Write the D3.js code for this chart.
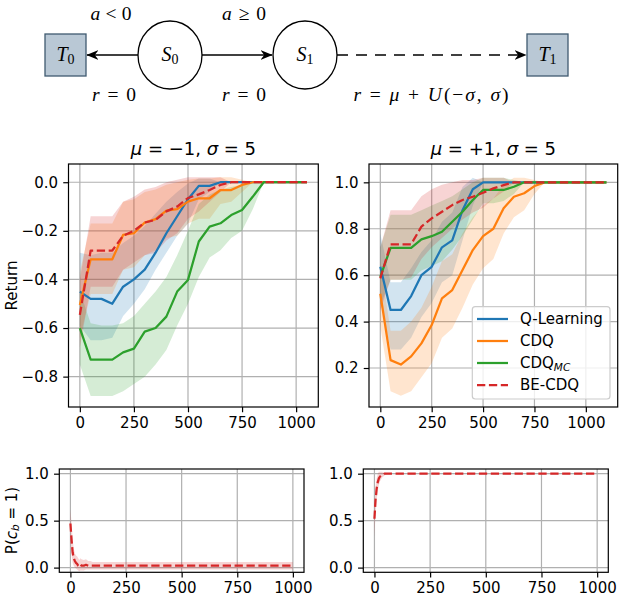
<!DOCTYPE html>
<html><head><meta charset="utf-8">
<script src="https://cdn.jsdelivr.net/npm/d3@7"></script>
<style>body{margin:0;background:#fff} svg{display:block} text{font-family:"DejaVu Sans",sans-serif} text.serif{font-family:"Liberation Serif","DejaVu Serif",serif}</style>
</head><body><svg id="c" width="620" height="596"></svg>
<script>
// ---------------- data ----------------
const methods = ["Q-Learning", "CDQ", "CDQ_MC", "BE-CDQ"];
const colors = ["#1f77b4", "#ff7f0e", "#2ca02c", "#d62728"];
const xTicks = [0, 250, 500, 750, 1000];

// top-left panel: mu = -1, sigma = 5
const xLeft = [0,50,100,150,200,250,300,350,400,450,500,550,600,650,700,750,800,850,900,950,1000,1050];
const qLeftMean  = [-0.45,-0.48,-0.48,-0.50,-0.43,-0.40,-0.36,-0.29,-0.21,-0.14,-0.07,-0.015,-0.015,0,0,0,0,0,0,0,0,0];
const qLeftUp    = [-0.29,-0.30,-0.29,-0.29,-0.25,-0.22,-0.18,-0.13,-0.08,-0.04,-0.005,0.015,0.015,0,0,0,0,0,0,0,0,0];
const qLeftLo    = [-0.59,-0.65,-0.65,-0.64,-0.55,-0.50,-0.44,-0.36,-0.29,-0.22,-0.17,-0.07,-0.04,0,0,0,0,0,0,0,0,0];
const cdqLeftMean= [-0.505,-0.317,-0.317,-0.317,-0.217,-0.21,-0.166,-0.152,-0.117,-0.111,-0.08,-0.066,-0.066,-0.032,-0.032,-0.011,0,0,0,0,0,0];
const cdqLeftUp  = [-0.37,-0.17,-0.17,-0.17,-0.08,-0.07,-0.04,-0.03,-0.01,0.0,0.01,0.015,0.015,0.02,0.02,0.01,0,0,0,0,0,0];
const cdqLeftLo  = [-0.64,-0.46,-0.46,-0.46,-0.36,-0.35,-0.30,-0.28,-0.23,-0.22,-0.17,-0.15,-0.15,-0.09,-0.08,-0.04,0,0,0,0,0,0];
const mcLeftMean = [-0.60,-0.73,-0.73,-0.73,-0.70,-0.685,-0.615,-0.60,-0.553,-0.45,-0.402,-0.244,-0.183,-0.169,-0.135,-0.114,-0.059,0,0,0,0,0];
const mcLeftUp   = [-0.45,-0.58,-0.59,-0.59,-0.58,-0.55,-0.50,-0.45,-0.39,-0.30,-0.20,-0.09,-0.05,-0.03,-0.02,-0.01,0,0,0,0,0,0];
const mcLeftLo   = [-0.75,-0.88,-0.88,-0.88,-0.86,-0.83,-0.80,-0.75,-0.69,-0.59,-0.50,-0.39,-0.31,-0.28,-0.23,-0.20,-0.11,0,0,0,0,0];
const beLeftMean = [-0.546,-0.281,-0.281,-0.281,-0.22,-0.20,-0.166,-0.155,-0.12,-0.10,-0.065,-0.05,-0.032,-0.011,0,0,0,0,0,0,0,0];
const beLeftUp   = [-0.40,-0.14,-0.14,-0.14,-0.08,-0.06,-0.03,-0.02,0.0,0.01,0.02,0.02,0.02,0.02,0,0,0,0,0,0,0,0];
const beLeftLo   = [-0.68,-0.43,-0.43,-0.43,-0.36,-0.33,-0.30,-0.29,-0.24,-0.21,-0.15,-0.12,-0.08,-0.04,0,0,0,0,0,0,0,0];

// top-right panel: mu = +1, sigma = 5
const xRight = [0,50,100,150,200,250,300,350,400,450,500,550,600,650,700,750,800,850,900,950,1000,1050,1100];
const qRightMean  = [0.636,0.45,0.45,0.51,0.60,0.636,0.72,0.75,0.88,0.97,1,1,1,1,1,1,1,1,1,1,1,1,1];
const qRightUp    = [0.78,0.57,0.57,0.63,0.70,0.75,0.83,0.87,0.98,1.02,1,1,1,1,1,1,1,1,1,1,1,1,1];
const qRightLo    = [0.49,0.28,0.28,0.33,0.42,0.48,0.57,0.60,0.75,0.90,1,1,1,1,1,1,1,1,1,1,1,1,1];
const cdqRightMean= [0.52,0.234,0.215,0.25,0.306,0.385,0.50,0.536,0.622,0.708,0.768,0.80,0.888,0.938,0.953,0.984,1,1,1,1,1,1,1];
const cdqRightUp  = [0.65,0.36,0.36,0.40,0.46,0.55,0.66,0.69,0.78,0.85,0.90,0.93,0.99,1.02,1.02,1.01,1,1,1,1,1,1,1];
const cdqRightLo  = [0.38,0.10,0.08,0.10,0.16,0.22,0.33,0.37,0.46,0.56,0.63,0.67,0.78,0.85,0.88,0.95,1,1,1,1,1,1,1];
const mcRightMean = [0.593,0.718,0.718,0.718,0.754,0.768,0.787,0.83,0.873,0.924,0.967,0.967,0.967,0.981,1,1,1,1,1,1,1,1,1];
const mcRightUp   = [0.72,0.86,0.86,0.86,0.88,0.90,0.92,0.94,0.97,1.0,1.02,1.02,1.02,1.01,1,1,1,1,1,1,1,1,1];
const mcRightLo   = [0.47,0.58,0.58,0.58,0.62,0.64,0.66,0.71,0.77,0.84,0.91,0.91,0.92,0.95,1,1,1,1,1,1,1,1,1];
const beRightMean = [0.586,0.733,0.733,0.733,0.809,0.845,0.873,0.902,0.924,0.938,0.955,0.974,0.988,1,1,1,1,1,1,1,1,1,1];
const beRightUp   = [0.72,0.88,0.88,0.88,0.94,0.97,0.99,1.0,1.01,1.01,1.02,1.02,1.02,1,1,1,1,1,1,1,1,1,1];
const beRightLo   = [0.45,0.58,0.58,0.59,0.67,0.72,0.76,0.80,0.84,0.87,0.89,0.93,0.96,1,1,1,1,1,1,1,1,1,1];

// bottom panels: P(c_b = 1) for BE-CDQ
const xProb = [0,5,10,15,20,25,30,35,40,45,50,60,70,80,90,100,200,300,400,500,600,700,800,900,1000];
const pLeftMean = [0.47,0.30,0.16,0.10,0.07,0.05,0.04,0.02,0.01,0.03,0.02,0.02,0.03,0.02,0.02,0.02,0.02,0.02,0.02,0.02,0.02,0.02,0.02,0.02,0.02];
const pLeftUp   = [0.62,0.48,0.30,0.20,0.15,0.13,0.12,0.10,0.08,0.10,0.09,0.08,0.09,0.07,0.07,0.06,0.06,0.06,0.06,0.06,0.06,0.06,0.06,0.06,0.06];
const pLeftLo   = [0.30,0.14,0.05,0.02,0.0,-0.01,-0.02,-0.03,-0.04,-0.03,-0.03,-0.03,-0.02,-0.02,-0.02,-0.02,-0.02,-0.02,-0.02,-0.02,-0.02,-0.02,-0.02,-0.02,-0.02];
const pRightMean = [0.52,0.72,0.84,0.91,0.95,0.97,0.98,0.99,0.99,1,1,1,1,1,1,1,1,1,1,1,1,1,1,1,1];
const pRightUp   = [0.66,0.86,0.95,1.0,1.02,1.02,1.02,1.02,1.01,1.01,1.01,1.0,1.0,1.0,1.0,1.0,1,1,1,1,1,1,1,1,1];
const pRightLo   = [0.32,0.58,0.73,0.82,0.88,0.92,0.94,0.96,0.97,0.98,0.99,1.0,1.0,1.0,1.0,1.0,1,1,1,1,1,1,1,1,1];

const leftTicks = [0.0,-0.2,-0.4,-0.6,-0.8];
const rightTicks = [1.0,0.8,0.6,0.4,0.2];
const probTicks = [0.0,0.5,1.0];

// ---------------- drawing ----------------
const svg = d3.select("#c");
const FS = 15, LW = 2.25;
const minus = s => s.replace("-", "\u2212");
let clipId = 0;

function panel(cfg) {
  const xs = d3.scaleLinear().domain(cfg.xDomain).range([cfg.x0, cfg.x1]);
  const ys = d3.scaleLinear().domain(cfg.yDomain).range([cfg.y1, cfg.y0]);
  const g = svg.append("g");
  const id = "clip" + (clipId++);
  g.append("clipPath").attr("id", id).append("rect")
    .attr("x", cfg.x0).attr("y", cfg.y0).attr("width", cfg.x1 - cfg.x0).attr("height", cfg.y1 - cfg.y0);
  const grid = g.append("g").attr("stroke", "#b0b0b0").attr("stroke-width", 1.2);
  xTicks.forEach(t => grid.append("line").attr("x1", xs(t)).attr("x2", xs(t)).attr("y1", cfg.y0).attr("y2", cfg.y1));
  cfg.yTicks.forEach(t => grid.append("line").attr("y1", ys(t)).attr("y2", ys(t)).attr("x1", cfg.x0).attr("x2", cfg.x1));
  const dg = g.append("g").attr("clip-path", `url(#${id})`);
  cfg.series.forEach(s => {
    const pts = s.x.map((xv, i) => ({x: xv, m: s.mean[i], lo: s.lo[i], up: s.up[i]}));
    dg.append("path").attr("d", d3.area().x(d => xs(d.x)).y0(d => ys(d.lo)).y1(d => ys(d.up))(pts))
      .attr("fill", s.color).attr("fill-opacity", 0.2);
  });
  cfg.series.forEach(s => {
    const pts = s.x.map((xv, i) => ({x: xv, m: s.mean[i]}));
    const p = dg.append("path").attr("d", d3.line().x(d => xs(d.x)).y(d => ys(d.m))(pts))
      .attr("fill", "none").attr("stroke", s.color).attr("stroke-width", LW).attr("stroke-linejoin", "round");
    if (s.dash) p.attr("stroke-dasharray", "8.3,3.6");
  });
  const ax = g.append("g").attr("transform", `translate(0,${cfg.y1})`)
    .call(d3.axisBottom(xs).tickValues(xTicks).tickSize(5.25).tickPadding(5.25).tickSizeOuter(0).tickFormat(d3.format("d")));
  const ay = g.append("g").attr("transform", `translate(${cfg.x0},0)`)
    .call(d3.axisLeft(ys).tickValues(cfg.yTicks).tickSize(5.25).tickPadding(5.25).tickSizeOuter(0).tickFormat(d => minus(d3.format(".1f")(d))));
  [ax, ay].forEach(a => {
    a.select(".domain").remove();
    a.selectAll(".tick line").attr("stroke", "#000").attr("stroke-width", 1.2);
    a.selectAll(".tick text").attr("font-size", FS).attr("fill", "#000").attr("font-family", "DejaVu Sans");
  });
  g.append("rect").attr("x", cfg.x0).attr("y", cfg.y0).attr("width", cfg.x1 - cfg.x0).attr("height", cfg.y1 - cfg.y0)
    .attr("fill", "none").attr("stroke", "#000").attr("stroke-width", 1.2);
  if (cfg.title) {
    const t = g.append("text").attr("x", (cfg.x0 + cfg.x1) / 2).attr("y", cfg.y0 - 9)
      .attr("text-anchor", "middle").attr("font-size", 18);
    cfg.title.forEach(([txt, it]) => t.append("tspan").text(txt).attr("font-style", it ? "italic" : "normal"));
  }
  return {xs, ys, g};
}

function mk(x, mean, lo, up, k) { return {x, mean, lo, up, color: colors[k], dash: k === 3}; }

panel({x0: 68.5, x1: 318.3, y0: 164, y1: 407, xDomain: [-52.5, 1102.5], yDomain: [-0.925, 0.075],
  yTicks: leftTicks, title: [["\u03BC", true], [" = \u22121, ", false], ["\u03C3", true], [" = 5", false]],
  series: [mk(xLeft, qLeftMean, qLeftLo, qLeftUp, 0), mk(xLeft, cdqLeftMean, cdqLeftLo, cdqLeftUp, 1),
           mk(xLeft, mcLeftMean, mcLeftLo, mcLeftUp, 2), mk(xLeft, beLeftMean, beLeftLo, beLeftUp, 3)]});

panel({x0: 369, x1: 617.7, y0: 164, y1: 407, xDomain: [-55, 1155], yDomain: [0.032, 1.079],
  yTicks: rightTicks, title: [["\u03BC", true], [" = +1, ", false], ["\u03C3", true], [" = 5", false]],
  series: [mk(xRight, qRightMean, qRightLo, qRightUp, 0), mk(xRight, cdqRightMean, cdqRightLo, cdqRightUp, 1),
           mk(xRight, mcRightMean, mcRightLo, mcRightUp, 2), mk(xRight, beRightMean, beRightLo, beRightUp, 3)]});

panel({x0: 59.3, x1: 304, y0: 469, y1: 572.3, xDomain: [-50, 1050], yDomain: [-0.05, 1.05],
  yTicks: probTicks, series: [mk(xProb, pLeftMean, pLeftLo, pLeftUp, 3)]});
panel({x0: 363.3, x1: 608.3, y0: 469, y1: 572.3, xDomain: [-50, 1050], yDomain: [-0.05, 1.05],
  yTicks: probTicks, series: [mk(xProb, pRightMean, pRightLo, pRightUp, 3)]});

// legend
const lg = svg.append("g");
lg.append("rect").attr("x", 472.3).attr("y", 306.7).attr("width", 137.7).attr("height", 92.3).attr("rx", 3)
  .attr("fill", "#fff").attr("fill-opacity", 0.8).attr("stroke", "#cccccc").attr("stroke-width", 1.2);
const rowY = [319, 341, 363, 385];
methods.forEach((m, i) => {
  const l = lg.append("line").attr("x1", 477).attr("x2", 508).attr("y1", rowY[i]).attr("y2", rowY[i])
    .attr("stroke", colors[i]).attr("stroke-width", LW);
  if (i === 3) l.attr("stroke-dasharray", "8.3,3.6");
  const t = lg.append("text").attr("x", 520).attr("y", rowY[i] + 5.3).attr("font-size", FS);
  if (m === "CDQ_MC") {
    t.append("tspan").text("CDQ");
    t.append("tspan").text("MC").attr("font-style", "italic").attr("font-size", 10.5).attr("dy", 2.5);
  } else t.text(m);
});

// y labels
svg.append("text").attr("transform", "translate(11.5,285.5) rotate(-90)").attr("text-anchor", "middle")
  .attr("dominant-baseline", "central").attr("font-size", FS).text("Return");
const pl = svg.append("text").attr("transform", "translate(11.5,520.5) rotate(-90)").attr("text-anchor", "middle")
  .attr("dominant-baseline", "central").attr("font-size", FS);
pl.append("tspan").text("P(");
pl.append("tspan").text("c").attr("font-style", "italic");
pl.append("tspan").text("b").attr("font-style", "italic").attr("font-size", 10.5).attr("dy", 3);
pl.append("tspan").text(" = 1)").attr("dy", -3);

// ---------------- MDP diagram ----------------
const dgm = svg.append("g");
dgm.append("defs").append("marker").attr("id", "arr").attr("viewBox", "0 0 10 10").attr("refX", 9.5).attr("refY", 5)
  .attr("markerWidth", 12).attr("markerHeight", 12).attr("markerUnits", "userSpaceOnUse").attr("orient", "auto")
  .append("path").attr("d", "M0,1 L10,5 L0,9 L3,5 Z").attr("fill", "#000");
[[45, "T", "0"], [527, "T", "1"]].forEach(([x, L, s]) => {
  dgm.append("rect").attr("x", x).attr("y", 34).attr("width", 41).attr("height", 42)
    .attr("fill", "#b9c8d5").attr("stroke", "#3f5a70").attr("stroke-width", 1.3);
  const t = dgm.append("text").attr("class", "serif").attr("x", x + 20.5).attr("y", 61).attr("text-anchor", "middle")
    .attr("font-size", 20);
  t.append("tspan").text(L).attr("font-style", "italic");
  t.append("tspan").text(s).attr("font-size", 14).attr("dy", 3);
});
[[170, "0"], [305, "1"]].forEach(([cx, s]) => {
  dgm.append("ellipse").attr("cx", cx).attr("cy", 55).attr("rx", 32).attr("ry", 34)
    .attr("fill", "#fff").attr("stroke", "#000").attr("stroke-width", 1.3);
  const t = dgm.append("text").attr("class", "serif").attr("x", cx).attr("y", 61).attr("text-anchor", "middle")
    .attr("font-size", 20);
  t.append("tspan").text("S").attr("font-style", "italic");
  t.append("tspan").text(s).attr("font-size", 14).attr("dy", 3);
});
dgm.append("line").attr("x1", 138).attr("y1", 55).attr("x2", 87).attr("y2", 55).attr("stroke", "#000").attr("stroke-width", 1.3).attr("marker-end", "url(#arr)");
dgm.append("line").attr("x1", 202).attr("y1", 55).attr("x2", 272).attr("y2", 55).attr("stroke", "#000").attr("stroke-width", 1.3).attr("marker-end", "url(#arr)");
dgm.append("line").attr("x1", 337).attr("y1", 55).attr("x2", 526).attr("y2", 55).attr("stroke", "#000").attr("stroke-width", 1.3)
  .attr("stroke-dasharray", "11,8").attr("marker-end", "url(#arr)");
function lab(x, y, parts, len) {
  const t = dgm.append("text").attr("class", "serif").attr("x", x).attr("y", y).attr("text-anchor", "middle").attr("font-size", 19.5);
  if (len) t.attr("textLength", len).attr("lengthAdjust", "spacing");
  parts.forEach(([s, it]) => t.append("tspan").text(s).attr("font-style", it ? "italic" : "normal"));
}
lab(111, 20, [["a", true], [" < 0", false]], 41);
lab(244, 20, [["a", true], [" \u2265 0", false]], 44);
lab(114, 101, [["r", true], [" = 0", false]], 44);
lab(244, 101, [["r", true], [" = 0", false]], 44);
lab(431, 101, [["r", true], [" = ", false], ["\u03BC", true], [" + ", false], ["U", true], ["(\u2212", false], ["\u03C3", true], [", ", false], ["\u03C3", true], [")", false]], 155);
</script></body></html>
